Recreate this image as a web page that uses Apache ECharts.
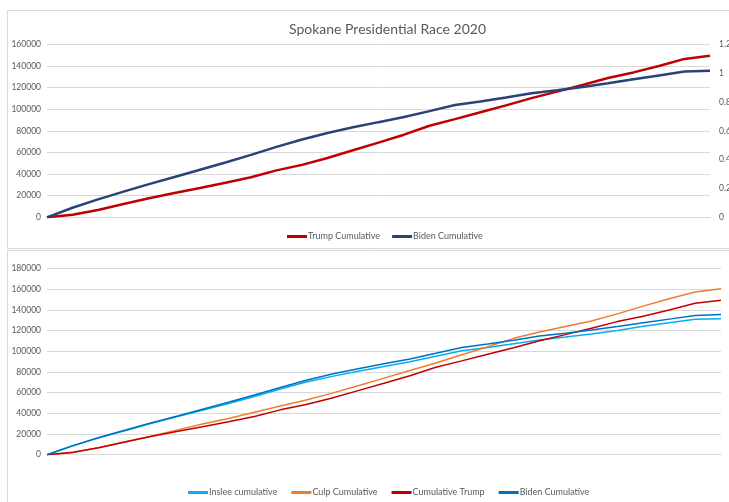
<!DOCTYPE html>
<html>
<head>
<meta charset="utf-8">
<script src="https://cdn.jsdelivr.net/npm/echarts@6/dist/echarts.min.js"></script>
<style>
html,body{margin:0;padding:0;background:#fff;}
#c{width:729px;height:502px;}
</style>
</head>
<body>
<div id="c"></div>
<script>
// Precinct reporting order (index of cumulative sample)
const categories = Array.from({length: 27}, (_, i) => String(i + 1));

// Cumulative vote totals
const trumpCumulative = [0,2400,6800,12300,17700,22400,27100,31900,37000,43400,48500,54900,62000,69100,76400,84700,90800,97200,103500,110200,116200,122400,128800,134000,140000,146500,149500];
const bidenCumulative = [0,8800,16600,23700,30700,37300,44000,50700,57700,65100,72000,78000,83200,88000,92700,98200,103800,107100,110700,114800,117600,120600,124000,127600,131200,134800,135600];
const insleeCumulative = [0,8600,16300,23200,30100,36600,43000,49500,56300,63500,70300,75800,80800,85400,89900,95200,100500,103800,107300,111100,113900,116900,120300,124200,127800,131000,131500];
const culpCumulative = [0,2000,7000,12300,17900,23800,29700,35000,41000,47100,53000,59600,66800,74100,81500,88800,96700,104500,112600,118700,124100,129400,136300,143800,150900,157500,160600];

const titleText = 'Spokane Presidential Race 2020';
const FONT = 'Lato, "Open Sans", sans-serif';
const GREY = '#595959';
const GRID = '#D9D9D9';

const chart = echarts.init(document.getElementById('c'), null, {renderer: 'canvas'});

const labelStyle = {color: GREY, fontSize: 8.5, fontFamily: FONT};

function yLeft(gridIndex, max) {
  return {
    type: 'value', gridIndex, min: 0, max, interval: 20000, position: 'left',
    axisLine: {show: false}, axisTick: {show: false},
    axisLabel: Object.assign({margin: 6, formatter: v => String(v)}, labelStyle),
    splitLine: {lineStyle: {color: GRID, width: 1}}
  };
}
function xCat(gridIndex) {
  return {
    type: 'category', gridIndex, data: categories, boundaryGap: false,
    axisLine: {show: true, lineStyle: {color: GRID}}, axisTick: {show: false},
    axisLabel: {show: false}, splitLine: {show: false}
  };
}
function lineSeries(name, data, color, width, xi, yi) {
  return {
    name, type: 'line', data, xAxisIndex: xi, yAxisIndex: yi,
    showSymbol: false, symbol: 'none', smooth: false,
    lineStyle: {color, width}, itemStyle: {color},
    emphasis: {disabled: true}, animation: false
  };
}

chart.setOption({
  backgroundColor: '#fff',
  animation: false,
  graphic: [
    {type: 'rect', shape: {x: 7.5, y: 10.5, width: 760, height: 238}, style: {fill: 'none', stroke: GRID, lineWidth: 1}, silent: true, z: -1},
    {type: 'rect', shape: {x: 7.5, y: 250.5, width: 760, height: 280}, style: {fill: 'none', stroke: GRID, lineWidth: 1}, silent: true, z: -1}
  ],
  title: {
    text: titleText, left: 284, top: 17,
    textStyle: {color: GREY, fontSize: 14, fontWeight: 'normal', fontFamily: FONT}
  },
  legend: [
    {
      left: 282, top: 227, itemWidth: 20, itemHeight: 3, itemGap: 12, icon: 'rect',
      data: ['Trump Cumulative', 'Biden Cumulative'],
      textStyle: {color: GREY, fontSize: 9, fontFamily: FONT, padding: [0, 0, 0, -4]}
    },
    {
      left: 183, top: 483, itemWidth: 20, itemHeight: 3, itemGap: 14, icon: 'rect',
      data: ['Inslee cumulative', 'Culp Cumulative', 'Cumulative Trump', 'Biden Cumulative '],
      textStyle: {color: GREY, fontSize: 9, fontFamily: FONT, padding: [0, 0, 0, -4]}
    }
  ],
  grid: [
    {left: 47, right: 19, top: 44.3, bottom: 502 - 217.3, containLabel: false, outerBoundsMode: 'none'},
    {left: 47, right: 8, top: 268.7, bottom: 502 - 454.7, containLabel: false, outerBoundsMode: 'none'}
  ],
  xAxis: [xCat(0), xCat(1)],
  yAxis: [
    yLeft(0, 160000),
    {
      type: 'value', gridIndex: 0, min: 0, max: 1.2, interval: 0.2, position: 'right',
      axisLine: {show: false}, axisTick: {show: false}, splitLine: {show: false},
      axisLabel: Object.assign({margin: 9, formatter: v => String(+v.toFixed(1))}, labelStyle)
    },
    yLeft(1, 180000)
  ],
  series: [
    lineSeries('Trump Cumulative', trumpCumulative, '#C00000', 2.5, 0, 0),
    lineSeries('Biden Cumulative', bidenCumulative, '#264478', 2.5, 0, 0),
    lineSeries('Inslee cumulative', insleeCumulative, '#00B0F0', 1.5, 1, 2),
    lineSeries('Culp Cumulative', culpCumulative, '#ED7D31', 1.5, 1, 2),
    lineSeries('Cumulative Trump', trumpCumulative, '#C00000', 1.5, 1, 2),
    lineSeries('Biden Cumulative ', bidenCumulative, '#0070C0', 1.5, 1, 2)
  ]
});
</script>
</body>
</html>
